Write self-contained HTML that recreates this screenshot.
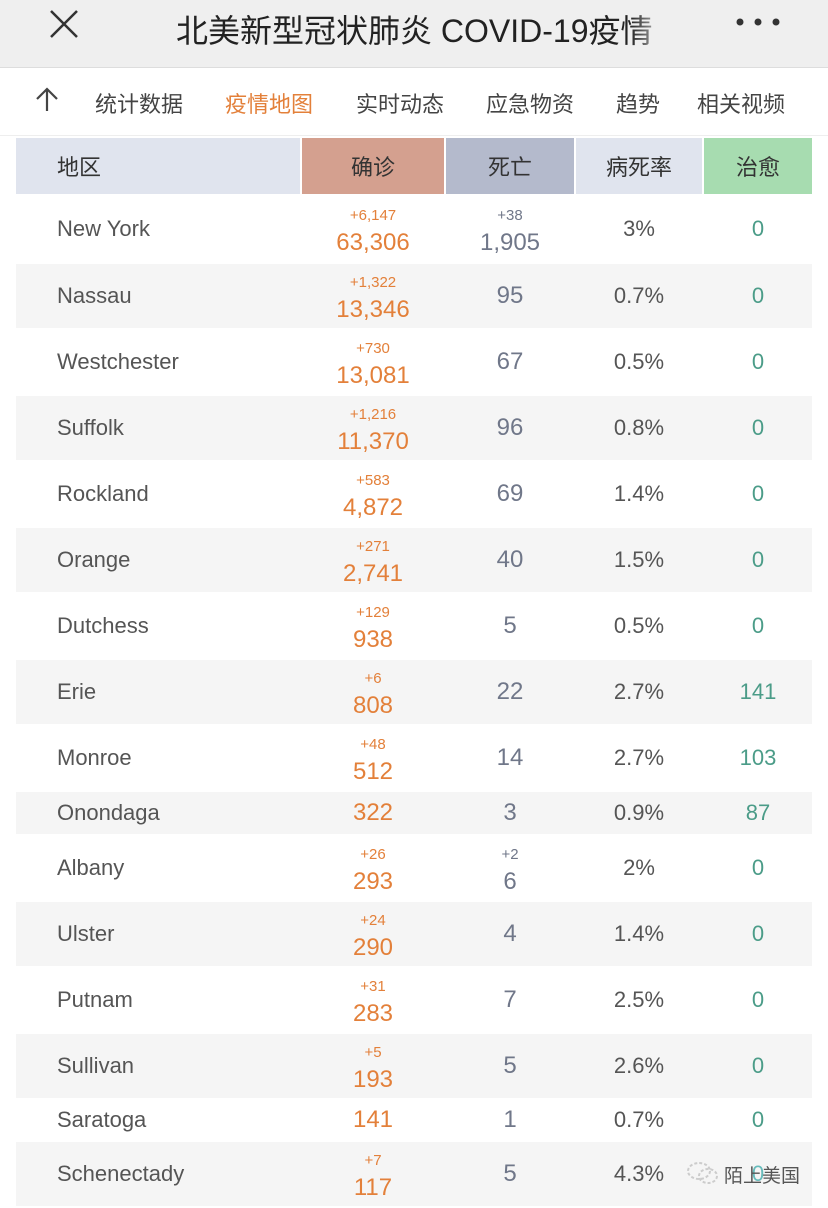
<!DOCTYPE html>
<html><head><meta charset="utf-8"><style>
*{margin:0;padding:0;box-sizing:border-box}
body{width:828px;height:1208px;overflow:hidden;background:#fff;font-family:"Liberation Sans","Noto Sans CJK SC",sans-serif;position:relative}
.top{position:absolute;left:0;top:0;width:828px;height:68px;background:#efefef;border-bottom:1px solid #ddd}
.nav{position:absolute;left:0;top:69px;width:828px;height:67px;background:#fff;border-bottom:1px solid #eee}
.nav span{position:absolute;top:18px;font-size:22px;color:#444}
.hd{position:absolute;top:138px;height:56px;font-size:22px;color:#333;display:flex;align-items:center;justify-content:center}
.row{position:absolute;left:16px;width:796px}
.g{background:#f5f5f5}
.c{position:absolute;top:0;height:100%;display:flex;flex-direction:column;align-items:center;justify-content:center}
.nm{left:41px;justify-content:center;align-items:flex-start;font-size:22px;color:#555}
.cf{left:286px;width:142px;color:#e3803a}
.dt{left:430px;width:128px;color:#707789}
.rt{left:560px;width:126px;color:#555;font-size:22px}
.cu{left:688px;width:108px;color:#4b9c88;font-size:22px}
.two{padding-top:6px}
.d{font-size:15px;line-height:22px}
.m{font-size:24px;line-height:32px}
</style></head><body>
<div class="top">
<svg style="position:absolute;left:48px;top:9px" width="32" height="30"><path d="M3 2L29 28M29 2L3 28" stroke="#333" stroke-width="2.5"/></svg>
<div style="position:absolute;left:176px;top:6px;font-size:32px;color:#222;white-space:nowrap;width:494px;overflow:hidden">北美新型冠状肺炎 COVID-19疫情</div>
<div style="position:absolute;left:630px;top:0;width:42px;height:60px;background:linear-gradient(to right,rgba(239,239,239,0),#efefef)"></div>
<svg style="position:absolute;left:734px;top:16px" width="50" height="12"><circle cx="6" cy="6" r="3.5" fill="#333"/><circle cx="24" cy="6" r="3.5" fill="#333"/><circle cx="42" cy="6" r="3.5" fill="#333"/></svg>
</div>
<div class="nav">
<svg style="position:absolute;left:34px;top:18px" width="26" height="26"><path d="M13 2V24M3 12L13 2L23 12" stroke="#444" stroke-width="2.2" fill="none"/></svg>
<span style="left:95px">统计数据</span>
<span style="left:225px;color:#e3803a">疫情地图</span>
<span style="left:356px">实时动态</span>
<span style="left:486px">应急物资</span>
<span style="left:616px">趋势</span>
<span style="left:697px">相关视频</span>
</div>
<div class="hd" style="left:16px;width:284px;background:#e0e4ee;justify-content:flex-start;padding-left:41px">地区</div>
<div class="hd" style="left:302px;width:142px;background:#d4a08f">确诊</div>
<div class="hd" style="left:446px;width:128px;background:#b4bacc">死亡</div>
<div class="hd" style="left:576px;width:126px;background:#e0e4ee">病死率</div>
<div class="hd" style="left:704px;width:108px;background:#a7dcb0">治愈</div>

<div class="row" style="top:196px;height:66px"><div class="c nm">New York</div><div class="c cf two"><div class="d">+6,147</div><div class="m">63,306</div></div><div class="c dt two"><div class="d">+38</div><div class="m">1,905</div></div><div class="c rt">3%</div><div class="c cu">0</div></div>
<div class="row g" style="top:264px;height:64px"><div class="c nm">Nassau</div><div class="c cf two"><div class="d">+1,322</div><div class="m">13,346</div></div><div class="c dt"><div class="m">95</div></div><div class="c rt">0.7%</div><div class="c cu">0</div></div>
<div class="row" style="top:330px;height:64px"><div class="c nm">Westchester</div><div class="c cf two"><div class="d">+730</div><div class="m">13,081</div></div><div class="c dt"><div class="m">67</div></div><div class="c rt">0.5%</div><div class="c cu">0</div></div>
<div class="row g" style="top:396px;height:64px"><div class="c nm">Suffolk</div><div class="c cf two"><div class="d">+1,216</div><div class="m">11,370</div></div><div class="c dt"><div class="m">96</div></div><div class="c rt">0.8%</div><div class="c cu">0</div></div>
<div class="row" style="top:462px;height:64px"><div class="c nm">Rockland</div><div class="c cf two"><div class="d">+583</div><div class="m">4,872</div></div><div class="c dt"><div class="m">69</div></div><div class="c rt">1.4%</div><div class="c cu">0</div></div>
<div class="row g" style="top:528px;height:64px"><div class="c nm">Orange</div><div class="c cf two"><div class="d">+271</div><div class="m">2,741</div></div><div class="c dt"><div class="m">40</div></div><div class="c rt">1.5%</div><div class="c cu">0</div></div>
<div class="row" style="top:594px;height:64px"><div class="c nm">Dutchess</div><div class="c cf two"><div class="d">+129</div><div class="m">938</div></div><div class="c dt"><div class="m">5</div></div><div class="c rt">0.5%</div><div class="c cu">0</div></div>
<div class="row g" style="top:660px;height:64px"><div class="c nm">Erie</div><div class="c cf two"><div class="d">+6</div><div class="m">808</div></div><div class="c dt"><div class="m">22</div></div><div class="c rt">2.7%</div><div class="c cu">141</div></div>
<div class="row" style="top:726px;height:64px"><div class="c nm">Monroe</div><div class="c cf two"><div class="d">+48</div><div class="m">512</div></div><div class="c dt"><div class="m">14</div></div><div class="c rt">2.7%</div><div class="c cu">103</div></div>
<div class="row g" style="top:792px;height:42px"><div class="c nm">Onondaga</div><div class="c cf"><div class="m">322</div></div><div class="c dt"><div class="m">3</div></div><div class="c rt">0.9%</div><div class="c cu">87</div></div>
<div class="row" style="top:836px;height:64px"><div class="c nm">Albany</div><div class="c cf two"><div class="d">+26</div><div class="m">293</div></div><div class="c dt two"><div class="d">+2</div><div class="m">6</div></div><div class="c rt">2%</div><div class="c cu">0</div></div>
<div class="row g" style="top:902px;height:64px"><div class="c nm">Ulster</div><div class="c cf two"><div class="d">+24</div><div class="m">290</div></div><div class="c dt"><div class="m">4</div></div><div class="c rt">1.4%</div><div class="c cu">0</div></div>
<div class="row" style="top:968px;height:64px"><div class="c nm">Putnam</div><div class="c cf two"><div class="d">+31</div><div class="m">283</div></div><div class="c dt"><div class="m">7</div></div><div class="c rt">2.5%</div><div class="c cu">0</div></div>
<div class="row g" style="top:1034px;height:64px"><div class="c nm">Sullivan</div><div class="c cf two"><div class="d">+5</div><div class="m">193</div></div><div class="c dt"><div class="m">5</div></div><div class="c rt">2.6%</div><div class="c cu">0</div></div>
<div class="row" style="top:1100px;height:40px"><div class="c nm">Saratoga</div><div class="c cf"><div class="m">141</div></div><div class="c dt"><div class="m">1</div></div><div class="c rt">0.7%</div><div class="c cu">0</div></div>
<div class="row g" style="top:1142px;height:64px"><div class="c nm">Schenectady</div><div class="c cf two"><div class="d">+7</div><div class="m">117</div></div><div class="c dt"><div class="m">5</div></div><div class="c rt">4.3%</div><div class="c cu" style="color:#6bb">0</div></div>
<svg style="position:absolute;left:686px;top:1160px" width="34" height="26"><ellipse cx="13" cy="11" rx="11" ry="8" fill="none" stroke="#ccc" stroke-width="2" stroke-dasharray="3 2"/><ellipse cx="22" cy="16" rx="9" ry="7" fill="none" stroke="#ccc" stroke-width="2" stroke-dasharray="3 2"/></svg>
<div style="position:absolute;left:724px;top:1161px;font-size:19px;color:#555">陌上美国</div>
</body></html>
